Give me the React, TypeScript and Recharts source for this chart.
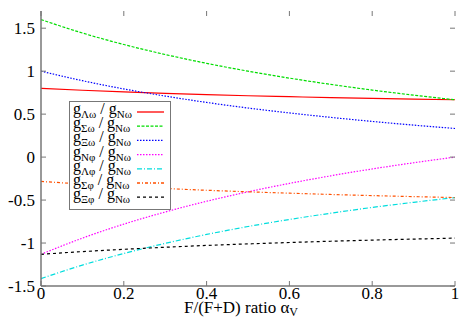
import React from "react";
import { LineChart, Line, XAxis, YAxis } from "recharts";

// F/(F+D) ratio sampled at 0, 0.1, ... 1
const alpha = [0, 0.1, 0.2, 0.3, 0.4, 0.5, 0.6, 0.7, 0.8, 0.9, 1];

const lambdaOmega = [0.8, 0.778, 0.759, 0.742, 0.727, 0.714, 0.703, 0.692, 0.683, 0.674, 0.667];
const sigmaOmega = [1.6, 1.444, 1.31, 1.194, 1.091, 1.0, 0.919, 0.846, 0.78, 0.721, 0.667];
const xiOmega = [1.0, 0.889, 0.793, 0.71, 0.636, 0.571, 0.514, 0.462, 0.415, 0.372, 0.333];
const nucleonPhi = [-1.131, -0.943, -0.78, -0.639, -0.514, -0.404, -0.306, -0.218, -0.138, -0.066, 0];
const lambdaPhi = [-1.414, -1.257, -1.122, -1.004, -0.9, -0.808, -0.726, -0.653, -0.586, -0.526, -0.471];
const sigmaPhi = [-0.283, -0.314, -0.341, -0.365, -0.386, -0.404, -0.42, -0.435, -0.448, -0.46, -0.471];
const xiPhi = [-1.131, -1.1, -1.073, -1.049, -1.028, -1.01, -0.994, -0.979, -0.966, -0.954, -0.943];

const xTicks = [0, 0.2, 0.4, 0.6, 0.8, 1];
const yTicks = [-1.5, -1, -0.5, 0, 0.5, 1, 1.5];

const series = [
  { key: "lo", sub: "\u039B\u03C9", values: lambdaOmega, color: "#ff0000", dash: undefined },
  { key: "so", sub: "\u03A3\u03C9", values: sigmaOmega, color: "#00dd00", dash: "3 1.5" },
  { key: "xo", sub: "\u039E\u03C9", values: xiOmega, color: "#0000ff", dash: "1.5 1.5" },
  { key: "np", sub: "N\u03C6", values: nucleonPhi, color: "#ff00ff", dash: "1.5 1.5" },
  { key: "lp", sub: "\u039B\u03C6", values: lambdaPhi, color: "#00dddd", dash: "5 2 1 2" },
  { key: "sp", sub: "\u03A3\u03C6", values: sigmaPhi, color: "#ff5000", dash: "3 2 1 2" },
  { key: "xp", sub: "\u039E\u03C6", values: xiPhi, color: "#000000", dash: "3 3" },
];

const data = alpha.map((a, i) => {
  const row: Record<string, number> = { a };
  series.forEach((s) => (row[s.key] = s.values[i]));
  return row;
});

const W = 469;
const H = 328;
const TOP = 11;
const BOTTOM = 286;
const LEFT = 41;
const RIGHT = 455;
const FRAME = "#777";
const SERIF = "Liberation Serif";

const XTick = (props: any) => {
  const { x, payload } = props;
  return (
    <g>
      <line x1={x} x2={x} y1={BOTTOM} y2={BOTTOM - 5} stroke={FRAME} />
      <line x1={x} x2={x} y1={TOP} y2={TOP + 5} stroke={FRAME} />
      <text x={x} y={BOTTOM + 13} textAnchor="middle" fontSize={17} fontFamily={SERIF} fill="#000">
        {String(payload.value)}
      </text>
    </g>
  );
};

const YTick = (props: any) => {
  const { y, payload } = props;
  return (
    <g>
      <line x1={LEFT} x2={LEFT + 5} y1={y} y2={y} stroke={FRAME} />
      <line x1={RIGHT} x2={RIGHT - 5} y1={y} y2={y} stroke={FRAME} />
      <text x={LEFT - 6} y={y + 6} textAnchor="end" fontSize={17} fontFamily={SERIF} fill="#000">
        {String(payload.value)}
      </text>
    </g>
  );
};

const XLabel = () => (
  <text x={241} y={313} textAnchor="middle" fontSize={17} fontFamily={SERIF} fill="#000">
    F/(F+D) ratio {"\u03B1"}
    <tspan fontSize={12} dy={3}>V</tspan>
  </text>
);

const LegendBox = () => (
  <svg width={102} height={109} style={{ position: "absolute", left: 69, top: 101, display: "block" }}>
    <rect x={0.5} y={0.5} width={101} height={108} fill="#fff" stroke={FRAME} />
    {series.map((s, i) => {
      const ly = 11 + i * 14.2;
      return (
        <g key={s.key}>
          <text x={4} y={ly + 2} fontSize={16} fontFamily={SERIF} fill="#000">
            g<tspan fontSize={11} dy={4}>{s.sub}</tspan>
            <tspan dy={-4}> / g</tspan>
            <tspan fontSize={11} dy={4}>N{"\u03C9"}</tspan>
          </text>
          <line x1={68} x2={95} y1={ly} y2={ly} stroke={s.color} strokeWidth={1.3} strokeDasharray={s.dash} />
        </g>
      );
    })}
  </svg>
);

export default function App() {
  return (
    <div
      style={{
        position: "absolute",
        left: 0,
        top: 0,
        width: W,
        height: H,
        background: "#fff",
        fontFamily: SERIF,
      }}
    >
      <LineChart width={W} height={H} data={data} margin={{ top: TOP, right: W - RIGHT, left: 0, bottom: 0 }}>
        <XAxis
          dataKey="a"
          type="number"
          domain={[0, 1]}
          ticks={xTicks}
          height={H - BOTTOM}
          axisLine={{ stroke: FRAME, strokeWidth: 1.5 }}
          tickLine={false}
          tick={<XTick />}
          label={<XLabel />}
        />
        <XAxis
          xAxisId="top"
          dataKey="a"
          type="number"
          orientation="top"
          domain={[0, 1]}
          ticks={xTicks}
          height={0}
          axisLine={{ stroke: FRAME, strokeWidth: 1.5 }}
          tickLine={false}
          tick={false}
        />
        <YAxis
          type="number"
          domain={[-1.5, 1.7]}
          ticks={yTicks}
          width={LEFT}
          allowDataOverflow
          axisLine={{ stroke: FRAME, strokeWidth: 1.5 }}
          tickLine={false}
          tick={<YTick />}
        />
        <YAxis
          yAxisId="right"
          type="number"
          orientation="right"
          domain={[-1.5, 1.7]}
          width={0}
          axisLine={{ stroke: FRAME, strokeWidth: 1.5 }}
          tickLine={false}
          tick={false}
        />
        {series.map((s) => (
          <Line
            key={s.key}
            dataKey={s.key}
            type="monotone"
            stroke={s.color}
            strokeWidth={1.2}
            strokeDasharray={s.dash}
            dot={false}
            isAnimationActive={false}
          />
        ))}
      </LineChart>
      <LegendBox />
    </div>
  );
}
